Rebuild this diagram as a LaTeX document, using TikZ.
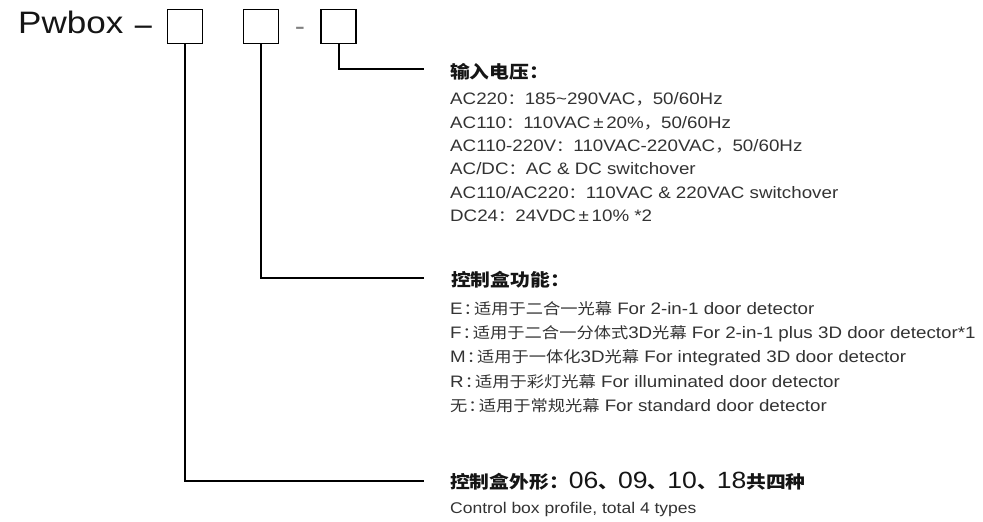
\documentclass[tikz,border=0pt]{standalone}
\usepackage{fontspec}
\setmainfont{Liberation Sans}[FakeStretch=1.13]
\newfontfamily\cjk{Noto Sans CJK SC}[FakeStretch=1.13,Scale=0.92]
\newfontfamily\cjkh{Noto Sans CJK SC}[FakeStretch=1.13]
\newfontfamily\lat{Liberation Sans}[FakeStretch=1.13]
\newcommand\zh[1]{{\cjk #1}}
\newcommand\cc{\hspace{1pt}\makebox[0.62em][l]{\zh{：}}}
\newcommand\hd[1]{{\lat\mdseries\fontsize{23.5}{24}\selectfont #1}}
\definecolor{txt}{HTML}{333333}
\definecolor{head}{HTML}{151515}
\begin{document}
\begin{tikzpicture}[x=1pt,y=-1pt,
  codebox/.style={draw=black,line width=1.5pt,minimum width=35pt,minimum height=34pt,inner sep=0pt},
  conn/.style={draw=black,line width=2pt},
  body/.style={anchor=base west,inner sep=0pt,text=txt,font=\fontsize{16.6}{18}\selectfont},
  heading/.style={anchor=base west,inner sep=0pt,text=head,font=\fontsize{17.5}{20}\selectfont\cjkh\bfseries},
  foot/.style={anchor=base west,inner sep=0pt,text=txt,font=\fontsize{15.5}{18}\selectfont}]
\useasboundingbox[fill=white] (0,0) rectangle (983,522);
% title
\node[anchor=base west,inner sep=0pt,text=head,font=\fontsize{31}{34}\selectfont] (title) at (18,34) {Pwbox \raisebox{-3pt}{−}};
\node[codebox] (b1) at (185,26.5) {};
\node[codebox] (b2) at (261,26.5) {};
\node[anchor=base,inner sep=0pt,text=gray,font=\fontsize{27}{28}\selectfont] (dash) at (300,35) {-};
\node[codebox] (b3) at (338.5,26.5) {};
% connector end points
\coordinate (e3) at (424,69);
\coordinate (e2) at (424,278);
\coordinate (e1) at (424,481);
\draw[conn] (b3.south) |- (e3);
\draw[conn] (b2.south) |- (e2);
\draw[conn] (b1.south) |- (e1);
% input voltage
\node[heading] (h3) at (450,78) {输入电压：};
\node[body] (v1) at (450,104.7) {AC220\zh{：}185\textasciitilde 290VAC\zh{，}50/60Hz};
\node[body] (v2) at (450,128.1) {AC110\zh{：}110VAC\,±\,20\%\zh{，}50/60Hz};
\node[body] (v3) at (450,151.5) {AC110-220V\zh{：}110VAC-220VAC\zh{，}50/60Hz};
\node[body] (v4) at (450,174.9) {AC/DC\zh{：}AC \& DC switchover};
\node[body] (v5) at (450,198.3) {AC110/AC220\zh{：}110VAC \& 220VAC switchover};
\node[body] (v6) at (450,221.7) {DC24\zh{：}24VDC\,±\,10\% *2};
% function
\node[heading] (h2) at (451,286) {控制盒功能：};
\node[body] (f1) at (450,314.5) {E\cc\zh{适用于二合一光幕} For 2-in-1 door detector};
\node[body] (f2) at (450,338.7) {F\cc\zh{适用于二合一分体式}3D\zh{光幕} For 2-in-1 plus 3D door detector*1};
\node[body] (f3) at (450,362.9) {M\cc\zh{适用于一体化}3D\zh{光幕} For integrated 3D door detector};
\node[body] (f4) at (450,387.1) {R\cc\zh{适用于彩灯光幕} For illuminated door detector};
\node[body] (f5) at (450,411.3) {\zh{无}\cc\zh{适用于常规光幕} For standard door detector};
% profile
\node[heading] (h1) at (450,488) {控制盒外形：\hd{06}、\hd{09}、\hd{10}、\hd{18}共四种};
\node[foot] (p1) at (450,513) {Control box profile, total 4 types};
\end{tikzpicture}
\end{document}
